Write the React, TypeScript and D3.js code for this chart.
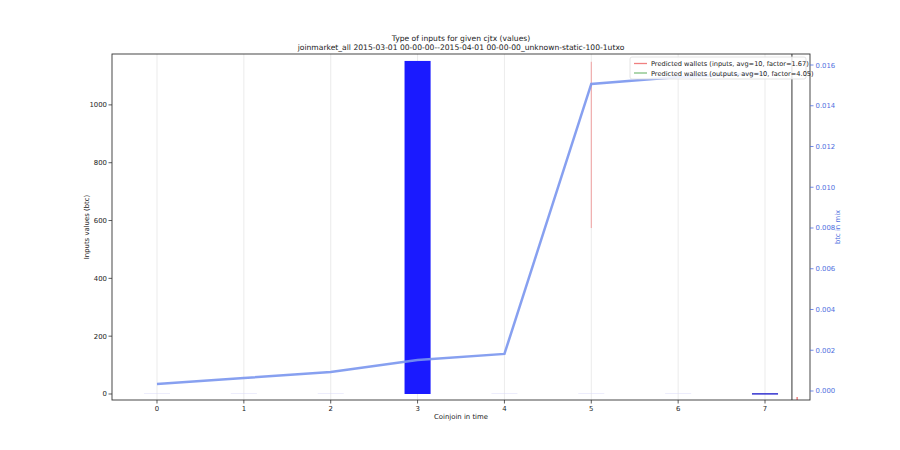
import React from "react";
import * as d3 from "d3";

const categories = [0, 1, 2, 3, 4, 5, 6, 7];
const barValues = [0, 0, 0, 1152, 0, 0, 0, 3];
const faintBarValues = [1.5, 1.5, 1.5, 0, 1.5, 1.5, 1.5, 0];
const btcInMix = [0.00034, 0.00064, 0.00093, 0.00152, 0.00182, 0.01507, 0.01541, 0.0156];
const leftTicks = [0, 200, 400, 600, 800, 1000];
const rightTicks = [0, 0.002, 0.004, 0.006, 0.008, 0.01, 0.012, 0.014, 0.016];
const redLine = { x: 5, y0: 574, y1: 1149 };
const blackLineX = 7.31;
const legendItems = [
  { label: "Predicted wallets (inputs, avg=10, factor=1.67)", color: "#f08080" },
  { label: "Predicted wallets (outputs, avg=10, factor=4.05)", color: "#80c080" },
];

export default function App() {
  const W = 900, H = 450;
  const L = 112, R = 810, T = 54, B = 400;
  const x = d3.scaleLinear().domain([-0.518, 7.518]).range([L, R]);
  const y = d3.scaleLinear().domain([-20.8, 1176]).range([B, T]);
  const y2 = d3.scaleLinear().domain([-0.000442, 0.01654]).range([B, T]);
  const bw = x(0.3) - x(0);
  const line = d3.line<number>().x((_, i) => x(categories[i])).y((d) => y2(d));
  const font = "DejaVu Sans, sans-serif";
  const blue = "#4f6fe0";
  const fs = 6.9;
  return (
    <svg width={W} height={H} style={{ display: "block", position: "absolute", left: 0, top: 0 }} fontFamily={font}>
      <rect width={W} height={H} fill="#fff" />
      {categories.map((c) => (
        <line key={"g" + c} x1={x(c)} x2={x(c)} y1={T} y2={B} stroke="#e6e6e6" strokeWidth={0.8} />
      ))}
      {categories.map((c, i) =>
        faintBarValues[i] > 0 ? (
          <rect key={"f" + c} x={x(c) - bw / 2} width={bw} y={y(faintBarValues[i])} height={y(0) - y(faintBarValues[i])} fill="#d6d6f7" />
        ) : null
      )}
      {categories.map((c, i) =>
        barValues[i] > 0 ? (
          <rect key={"b" + c} x={x(c) - bw / 2} width={bw} y={y(barValues[i])} height={Math.max(1.5, y(0) - y(barValues[i]))} fill={i === 3 ? "#1a1aff" : "#3535d0"} />
        ) : null
      )}
      <line x1={x(redLine.x)} x2={x(redLine.x)} y1={y(redLine.y0)} y2={y(redLine.y1)} stroke="#f0a0a0" strokeWidth={1} />
      <line x1={x(blackLineX)} x2={x(blackLineX)} y1={T} y2={B} stroke="#333" strokeWidth={1} />
      <line x1={x(7.37)} x2={x(7.37)} y1={B - 3} y2={B} stroke="#f08080" strokeWidth={1.5} />
      <path d={line(btcInMix) || ""} fill="none" stroke="#7a96ee" strokeWidth={2.5} opacity={0.9} />
      {/* legend */}
      <g>
        <rect x={630} y={57} width={176} height={22} fill="#fff" fillOpacity={0.85} stroke="#ddd" strokeWidth={0.8} rx={2} />
        {legendItems.map((it, i) => (
          <g key={it.label}>
            <line x1={634} x2={647} y1={63.5 + i * 9.5} y2={63.5 + i * 9.5} stroke={it.color} strokeWidth={1.3} />
            <text x={651} y={66 + i * 9.5} fontSize={6.6} fill="#222">{it.label}</text>
          </g>
        ))}
      </g>
      {/* spines */}
      <rect x={L} y={T} width={R - L} height={B - T} fill="none" stroke="#333" strokeWidth={0.9} />
      {/* x axis */}
      {categories.map((c) => (
        <g key={"xt" + c}>
          <line x1={x(c)} x2={x(c)} y1={B} y2={B + 3.5} stroke="#333" strokeWidth={0.8} />
          <text x={x(c)} y={B + 11} fontSize={fs} textAnchor="middle" fill="#222">{c}</text>
        </g>
      ))}
      <text x={(L + R) / 2} y={419} fontSize={fs} textAnchor="middle" fill="#222">Coinjoin in time</text>
      {/* left axis */}
      {leftTicks.map((t) => (
        <g key={"yt" + t}>
          <line x1={L - 3.5} x2={L} y1={y(t)} y2={y(t)} stroke="#333" strokeWidth={0.8} />
          <text x={L - 5} y={y(t) + 2.5} fontSize={fs} textAnchor="end" fill="#222">{t}</text>
        </g>
      ))}
      <text transform={`translate(89,${(T + B) / 2}) rotate(-90)`} fontSize={fs} textAnchor="middle" fill="#222">Inputs values (btc)</text>
      {/* right axis */}
      {rightTicks.map((t) => (
        <g key={"rt" + t}>
          <line x1={R} x2={R + 3.5} y1={y2(t)} y2={y2(t)} stroke={blue} strokeWidth={0.8} />
          <text x={R + 5.5} y={y2(t) + 2.5} fontSize={fs} textAnchor="start" fill={blue}>{t.toFixed(3)}</text>
        </g>
      ))}
      <text transform={`translate(840,${(T + B) / 2}) rotate(-90)`} fontSize={fs} textAnchor="middle" fill={blue}>btc in mix</text>
      {/* title */}
      <text x={(L + R) / 2} y={41} fontSize={7.6} textAnchor="middle" fill="#222">Type of inputs for given cjtx (values)</text>
      <text x={(L + R) / 2} y={50} fontSize={7.6} textAnchor="middle" fill="#222">joinmarket_all 2015-03-01 00-00-00--2015-04-01 00-00-00_unknown-static-100-1utxo</text>
    </svg>
  );
}
